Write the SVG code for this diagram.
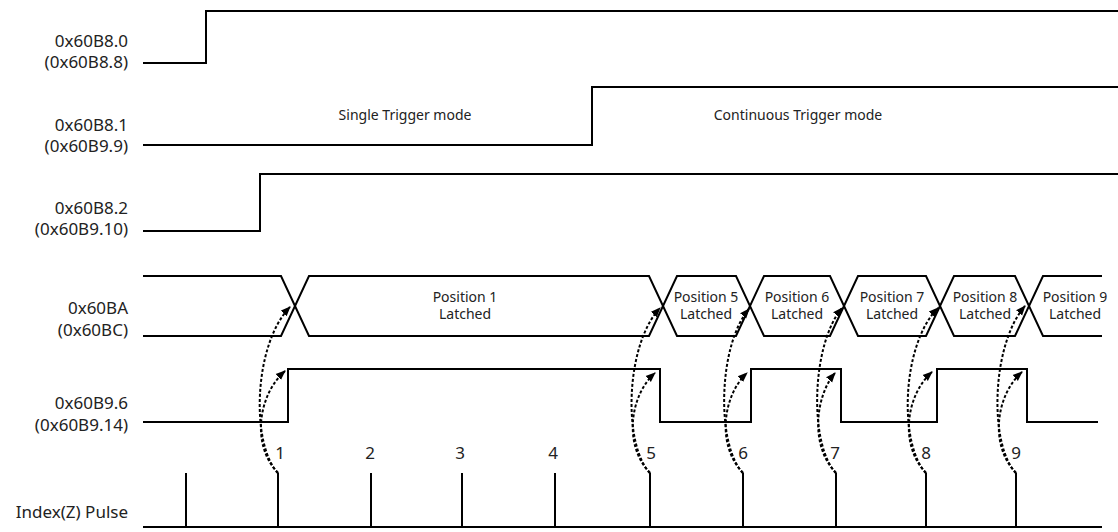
<svg xmlns="http://www.w3.org/2000/svg" width="1118" height="532" viewBox="0 0 1118 532">
<style>
.sig{fill:none;stroke:#000;stroke-width:2}
.lbl{font-family:"Noto Sans","Liberation Sans",sans-serif;font-size:17px;fill:#222;text-anchor:end}
.num{font-family:"Noto Sans","Liberation Sans",sans-serif;font-size:17px;fill:#222;text-anchor:middle}
.small{font-family:"Noto Sans","Liberation Sans",sans-serif;font-size:14px;fill:#222;text-anchor:middle}
.dash{fill:none;stroke:#000;stroke-width:2;stroke-dasharray:3,2;marker-end:url(#ah)}
</style>
<defs>
<marker id="ah" viewBox="0 0 10 10" refX="9" refY="5" markerWidth="10" markerHeight="10" markerUnits="userSpaceOnUse" orient="auto">
<path d="M0,1 L10,5 L0,9 z" fill="#000"/>
</marker>
</defs>
<rect width="1118" height="532" fill="#fff"/>
<g id="sig-60B8-0">
<text class="lbl" x="128" y="47">0x60B8.0</text>
<text class="lbl" x="128" y="68">(0x60B8.8)</text>
<path class="sig" d="M143,63 H206 V11 H1118"/>
</g>
<g id="sig-60B8-1">
<text class="lbl" x="128" y="131">0x60B8.1</text>
<text class="lbl" x="128" y="152">(0x60B9.9)</text>
<path class="sig" d="M143,145 H592 V87 H1118"/>
<text class="small" x="405" y="120">Single Trigger mode</text>
<text class="small" x="798" y="120">Continuous Trigger mode</text>
</g>
<g id="sig-60B8-2">
<text class="lbl" x="128" y="214">0x60B8.2</text>
<text class="lbl" x="128" y="235">(0x60B9.10)</text>
<path class="sig" d="M143,231 H260 V174 H1118"/>
</g>
<g id="bus-60BA">
<text class="lbl" x="128" y="314">0x60BA</text>
<text class="lbl" x="128" y="336">(0x60BC)</text>
<path class="sig" d="M143,276 H281 L309,336 H649 L677,276 H736 L764,336 H830 L858,276 H926 L954,336 H1015 L1043,276 H1102"/>
<path class="sig" d="M143,336 H281 L309,276 H649 L677,336 H736 L764,276 H830 L858,336 H926 L954,276 H1015 L1043,336 H1102"/>
<text class="small" x="465" y="302">Position 1</text>
<text class="small" x="465" y="319">Latched</text>
<text class="small" x="706" y="302">Position 5</text>
<text class="small" x="706" y="319">Latched</text>
<text class="small" x="797" y="302">Position 6</text>
<text class="small" x="797" y="319">Latched</text>
<text class="small" x="892" y="302">Position 7</text>
<text class="small" x="892" y="319">Latched</text>
<text class="small" x="985" y="302">Position 8</text>
<text class="small" x="985" y="319">Latched</text>
<text class="small" x="1075" y="302">Position 9</text>
<text class="small" x="1075" y="319">Latched</text>
</g>
<g id="sig-60B9-6">
<text class="lbl" x="128" y="409">0x60B9.6</text>
<text class="lbl" x="128" y="431">(0x60B9.14)</text>
<path class="sig" d="M143,422 H288 V369 H660 V422 H751 V369 H841 V422 H937 V369 H1027 V422 H1098"/>
</g>
<g id="index-pulse">
<text class="lbl" x="128" y="518">Index(Z) Pulse</text>
<path class="sig" d="M143,527 H1102 M186,527 V473 M278,527 V473 M371,527 V473 M462,527 V473 M555,527 V473 M650,527 V473 M743,527 V473 M836,527 V473 M926,527 V473 M1016,527 V473"/>
<text class="num" x="280" y="459">1</text>
<text class="num" x="370" y="459">2</text>
<text class="num" x="460" y="459">3</text>
<text class="num" x="553" y="459">4</text>
<text class="num" x="651" y="459">5</text>
<text class="num" x="743" y="459">6</text>
<text class="num" x="835" y="459">7</text>
<text class="num" x="926" y="459">8</text>
<text class="num" x="1016" y="459">9</text>
</g>
<g id="connectors">
<path class="dash" d="M278,473 C251,445 253,345 290,307"/>
<path class="dash" d="M278,473 C251,445 258,395 285,371"/>
<path class="dash" d="M650,473 C623,445 625,345 660,308"/>
<path class="dash" d="M650,473 C623,445 630,395 655,373"/>
<path class="dash" d="M743,473 C716,445 718,345 749,309"/>
<path class="dash" d="M743,473 C716,445 723,395 747,373"/>
<path class="dash" d="M836,473 C809,445 811,345 842,308"/>
<path class="dash" d="M836,473 C809,445 816,395 835,373"/>
<path class="dash" d="M926,473 C899,445 901,345 938,308"/>
<path class="dash" d="M926,473 C899,445 906,395 932,372"/>
<path class="dash" d="M1016,473 C989,445 991,345 1025,306"/>
<path class="dash" d="M1016,473 C989,445 996,395 1022,372"/>
</g>
</svg>
